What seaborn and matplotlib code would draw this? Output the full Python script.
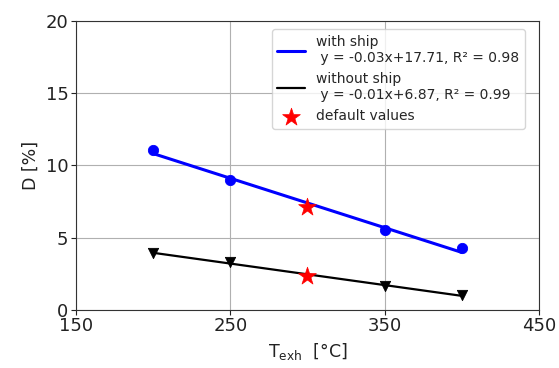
import numpy as np
import pandas as pd
import matplotlib
matplotlib.use("Agg")
import matplotlib.pyplot as plt
import seaborn as sns

t_exh = [200, 250, 300, 350, 400]
d_with_ship = [11.1, 9.0, 7.1, 5.5, 4.3]
d_without_ship = [3.95, 3.3, 2.35, 1.65, 1.05]
default_t = [300, 300]
default_d = [7.1, 2.35]
label_with = "with ship\n y = -0.03x+17.71, R² = 0.98"
label_without = "without ship\n y = -0.01x+6.87, R² = 0.99"
label_default = "default values"
x_ticks = [150, 250, 350, 450]
y_ticks = [0, 5, 10, 15, 20]

sns.set_style("white")
plt.rcParams['font.family'] = ['DejaVu Sans']

fig = plt.figure(figsize=(5.59, 3.68), dpi=100)
ax = fig.add_axes([0.136, 0.158, 0.828, 0.785])

df_w = pd.DataFrame({"T": t_exh, "D": d_with_ship})
df_wo = pd.DataFrame({"T": t_exh, "D": d_without_ship})
mask = [t != 300 for t in t_exh]
sns.scatterplot(data=df_w[mask], x="T", y="D", ax=ax, color="blue", marker="o",
                s=55, edgecolor="blue", zorder=3, legend=False)
sns.scatterplot(data=df_wo[mask], x="T", y="D", ax=ax, color="black", marker="v",
                s=55, edgecolor="black", zorder=3, legend=False)
sns.regplot(data=df_w, x="T", y="D", ax=ax, scatter=False, ci=None, truncate=True,
            color="blue", label=label_with, line_kws={"lw": 2.2, "zorder": 2})
sns.regplot(data=df_wo, x="T", y="D", ax=ax, scatter=False, ci=None, truncate=True,
            color="black", label=label_without, line_kws={"lw": 1.6, "zorder": 2})
sns.scatterplot(x=default_t, y=default_d, ax=ax, color="red", marker="*", s=180,
                edgecolor="red", linewidth=0.5, zorder=4, label=label_default)

ax.set_xlim(150, 450)
ax.set_ylim(0, 20)
ax.set_xticks(x_ticks)
ax.set_yticks(y_ticks)
ax.grid(True, color="#b0b0b0", linewidth=0.8)
ax.set_axisbelow(True)
for s in ax.spines.values():
    s.set_color("#333333")
    s.set_linewidth(0.8)
ax.tick_params(axis="both", which="both", direction="out", length=3.5, width=0.8,
               labelsize=13, colors="#222222", bottom=True, left=True, pad=2)
ax.set_xlabel("T$_{\\mathrm{exh}}$  [°C]", fontsize=12.5, color="#222222")
ax.set_ylabel("D [%]", fontsize=12.5, color="#222222")
ax.legend(loc="upper right", fontsize=10, frameon=True, framealpha=0.8,
          edgecolor="#cccccc", handlelength=2.0, borderaxespad=0.5,
          bbox_to_anchor=(0.985, 0.995))

fig.savefig("out.png", dpi=100)
